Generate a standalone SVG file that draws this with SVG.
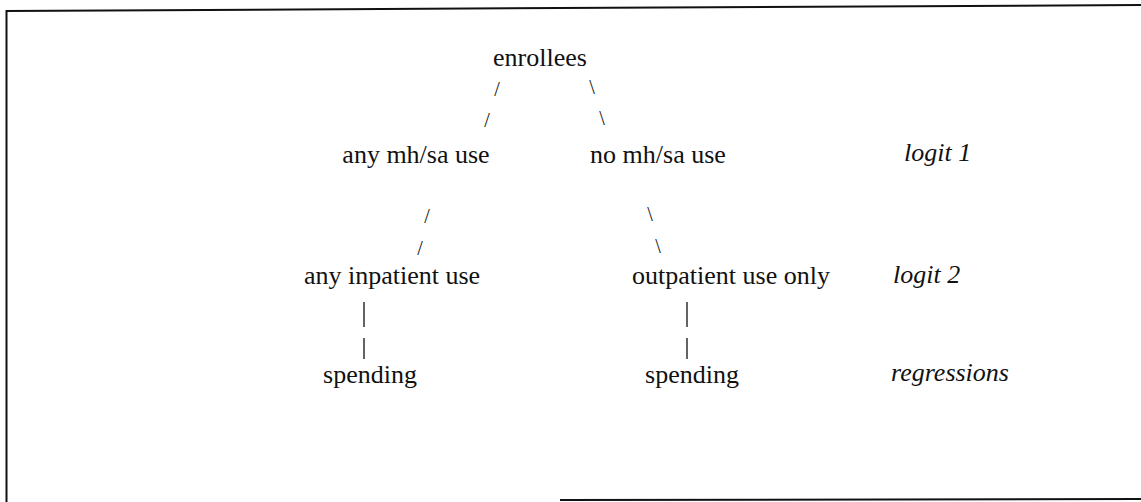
<svg xmlns="http://www.w3.org/2000/svg" width="1141" height="502" viewBox="0 0 1141 502">
<style>
.t{font-family:"Liberation Serif","Times New Roman",serif;font-size:26px;fill:#111;text-anchor:middle}
.i{font-style:italic;text-anchor:start}
.c{font-family:"Liberation Serif","Times New Roman",serif;font-size:20px;fill:#111;text-anchor:middle}
.b{stroke:#111;stroke-width:2;fill:none}
.v{stroke:#222;stroke-width:1.4;fill:none}
</style>
<rect width="1141" height="502" fill="#fff"/>
<g id="frame">
<line class="b" x1="6" y1="11" x2="1141" y2="5"/>
<line class="b" x1="6.5" y1="10" x2="6.5" y2="502"/>
<line class="b" x1="560" y1="500" x2="1141" y2="499"/>
</g>
<g id="connectors">
<text class="c" x="497" y="96">/</text>
<text class="c" x="487" y="127">/</text>
<text class="c" x="592" y="94">\</text>
<text class="c" x="602" y="125">\</text>
<text class="c" x="427" y="223">/</text>
<text class="c" x="420" y="255">/</text>
<text class="c" x="650" y="221">\</text>
<text class="c" x="658" y="253">\</text>
<line class="v" x1="364" y1="302" x2="364" y2="327"/>
<line class="v" x1="364" y1="338" x2="364" y2="359"/>
<line class="v" x1="687" y1="302" x2="687" y2="327"/>
<line class="v" x1="687" y1="338" x2="687" y2="359"/>
</g>
<g id="enrollees"><text class="t" x="540" y="66">enrollees</text></g>
<g id="any-mhsa"><text class="t" x="416" y="163">any mh/sa use</text></g>
<g id="no-mhsa"><text class="t" x="658" y="163">no mh/sa use</text></g>
<g id="logit1"><text class="t i" x="904" y="161">logit 1</text></g>
<g id="any-inpatient"><text class="t" x="392" y="284">any inpatient use</text></g>
<g id="outpatient-only"><text class="t" x="731" y="284">outpatient use only</text></g>
<g id="logit2"><text class="t i" x="893" y="283">logit 2</text></g>
<g id="spending-left"><text class="t" x="370" y="383">spending</text></g>
<g id="spending-right"><text class="t" x="692" y="383">spending</text></g>
<g id="regressions"><text class="t i" x="891" y="381">regressions</text></g>
</svg>
